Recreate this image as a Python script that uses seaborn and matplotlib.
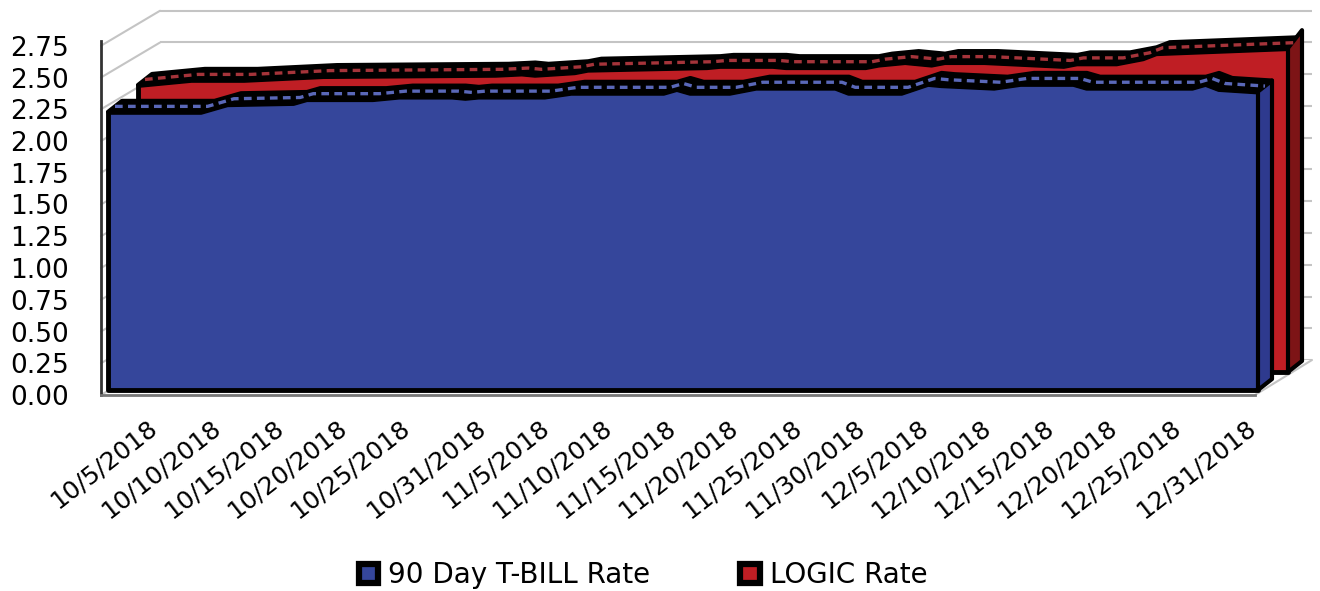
import pandas as pd
import numpy as np
import matplotlib
matplotlib.use('Agg')
import matplotlib.pyplot as plt
from matplotlib.patches import ConnectionPatch, Patch, Polygon
from matplotlib.transforms import Affine2D
import seaborn as sns

tbill_dates = ['10/5/2018', '10/12/2018', '10/14/2018', '10/19/2018', '10/20/2018', '10/25/2018',
               '10/27/2018', '10/31/2018', '11/1/2018', '11/2/2018', '11/7/2018', '11/9/2018',
               '11/16/2018', '11/17/2018', '11/18/2018', '11/21/2018', '11/23/2018', '11/29/2018',
               '11/30/2018', '12/4/2018', '12/6/2018', '12/7/2018', '12/11/2018', '12/13/2018',
               '12/17/2018', '12/18/2018', '12/26/2018', '12/27/2018', '12/28/2018', '12/31/2018']
tbill_rate = [2.19, 2.19, 2.25, 2.26, 2.29, 2.29,
              2.31, 2.31, 2.30, 2.31, 2.31, 2.34,
              2.34, 2.37, 2.34, 2.34, 2.38, 2.38,
              2.34, 2.34, 2.41, 2.40, 2.38, 2.41,
              2.41, 2.38, 2.38, 2.41, 2.37, 2.35]

logic_dates = ['10/5/2018', '10/9/2018', '10/13/2018', '10/19/2018', '11/1/2018', '11/3/2018',
               '11/4/2018', '11/7/2018', '11/8/2018', '11/17/2018', '11/18/2018', '11/22/2018',
               '11/23/2018', '11/29/2018', '11/30/2018', '12/2/2018', '12/4/2018', '12/5/2018',
               '12/8/2018', '12/14/2018', '12/15/2018', '12/18/2018', '12/20/2018', '12/21/2018',
               '12/31/2018']
logic_rate = [2.26, 2.30, 2.30, 2.33, 2.34, 2.35,
              2.34, 2.36, 2.38, 2.40, 2.41, 2.41,
              2.40, 2.40, 2.42, 2.44, 2.42, 2.44,
              2.44, 2.41, 2.43, 2.43, 2.47, 2.51,
              2.55]

date_labels = ['10/5/2018', '10/10/2018', '10/15/2018', '10/20/2018', '10/25/2018', '10/31/2018',
               '11/5/2018', '11/10/2018', '11/15/2018', '11/20/2018', '11/25/2018', '11/30/2018',
               '12/5/2018', '12/10/2018', '12/15/2018', '12/20/2018', '12/25/2018', '12/31/2018']
rate_ticks = [0, 0.25, 0.5, 0.75, 1, 1.25, 1.5, 1.75, 2, 2.25, 2.5, 2.75]

tbill_name = '90 Day T-BILL Rate'
logic_name = 'LOGIC Rate'

W, H = 1320, 591
sns.set_theme(style='white')
plt.rcParams['font.family'] = ['DejaVu Sans']


def to_dates(values):
    return pd.to_datetime(values, format='%m/%d/%Y')


def add_panel(left, right, zero_y, top=2.79):
    # pixel box, 127 px per 1.0 on the rate scale
    height = top * 127
    a = fig.add_axes([left / W, (H - zero_y) / H, (right - left) / W, height / H])
    a.set_ylim(0, top)
    a.set_xlim(start, end)
    a.patch.set_visible(False)
    return a


def slab(ax, dates, rates, face, side, dash, ox, oy, side_rise):
    dates = to_dates(dates)
    rates = np.array(rates)
    front = ax.transData + Affine2D().translate(ox, oy)
    pts = front.transform(np.c_[matplotlib.dates.date2num(dates), rates])
    base = front.transform([[matplotlib.dates.date2num(dates[-1]), 0]])[0]
    ax.fill_between(dates, 0, rates, transform=front, facecolor=face, edgecolor='black',
                    linewidth=3.5, joinstyle='round', zorder=2, clip_on=False)
    top = np.vstack([pts, (pts + depth)[::-1]])
    ax.add_patch(Polygon(top, closed=True, transform=None, facecolor='black', edgecolor='black',
                         linewidth=3, joinstyle='round', zorder=3, clip_on=False))
    end_face = np.array([base, pts[-1], pts[-1] + [depth[0], side_rise], base + depth])
    ax.add_patch(Polygon(end_face, closed=True, transform=None, facecolor=side, edgecolor='black',
                         linewidth=3, joinstyle='round', zorder=3, clip_on=False))
    mid = front + Affine2D().translate(depth[0] / 2, depth[1] / 2)
    sns.lineplot(x=dates, y=rates, ax=ax, transform=mid, color=dash, linewidth=2.4,
                 linestyle=(0, (2.3, 1.6)), errorbar=None, legend=False, zorder=4, clip_on=False)


fig = plt.figure(figsize=(W / 100, H / 100), dpi=100)
start, end = to_dates(['10/5/2018', '12/31/2018'])
depth = np.array([14, 11])

# back wall with the grid
back = add_panel(160, 1312, 360)
back.set_zorder(0)
back.set_yticks(rate_ticks)
back.set_xticks([])
back.tick_params(left=False, labelleft=False)
back.grid(axis='y', color='#c4c4c4', linewidth=1.5)
sns.despine(ax=back, left=True, bottom=True)

# front axis with the rate labels
wall = add_panel(101, 1255, 395)
wall.set_zorder(1)
wall.set_yticks(rate_ticks, [f'{t:.2f}' for t in rate_ticks], fontsize=19, color='black')
wall.set_xticks([])
wall.tick_params(axis='y', length=0, pad=23)
sns.despine(ax=wall)
wall.spines['left'].set(color='#333333', linewidth=2)
wall.spines['bottom'].set(color='#777777', linewidth=2)

for t in rate_ticks:
    fig.add_artist(ConnectionPatch((0, t), (0, t), coordsA=wall.get_yaxis_transform(),
                                   coordsB=back.get_yaxis_transform(), color='#c4c4c4',
                                   linewidth=1.5, zorder=0.5))
fig.add_artist(ConnectionPatch((1, 0), (1, 0), coordsA=wall.transAxes, coordsB=back.transAxes,
                               color='#c4c4c4', linewidth=1.5, zorder=0.5))

# date labels have their own slightly narrower scale
lab = add_panel(147, 1246, 415, top=0.1)
lab.set_zorder(1)
lab.set_yticks([])
lab.set_xticks(to_dates(date_labels), date_labels, rotation=38, ha='right', va='top',
               rotation_mode='anchor', fontsize=18, color='black')
lab.tick_params(axis='x', length=0, pad=0)
sns.despine(ax=lab, left=True, bottom=True)

ax = add_panel(108, 1258, 390)
ax.set_zorder(5)
slab(ax, logic_dates, logic_rate, '#bf1e24', '#7d1416', '#a5343a', 30, 18, 18)
slab(ax, tbill_dates, tbill_rate, '#35469b', '#2e3a8e', '#5a68b8', 0, 0, 11)
ax.set_xlim(start, end)
ax.set_ylim(0, 2.79)
ax.set_xticks([])
ax.set_yticks([])
ax.set_xlabel('')
ax.set_ylabel('')
sns.despine(ax=ax, left=True, bottom=True)

handles = [Patch(facecolor='#35469b', edgecolor='black', linewidth=4.5, label=tbill_name),
           Patch(facecolor='#bf1e24', edgecolor='black', linewidth=4.5, label=logic_name)]
fig.legend(handles=handles, loc='center', bbox_to_anchor=(643 / W, (H - 575) / H), ncol=2,
           frameon=False, handlelength=0.7, handleheight=0.7, handletextpad=0.36,
           columnspacing=3.25, labelcolor='black', prop={'family': 'DejaVu Sans', 'size': 20})

fig.savefig('out.png', dpi=100)
